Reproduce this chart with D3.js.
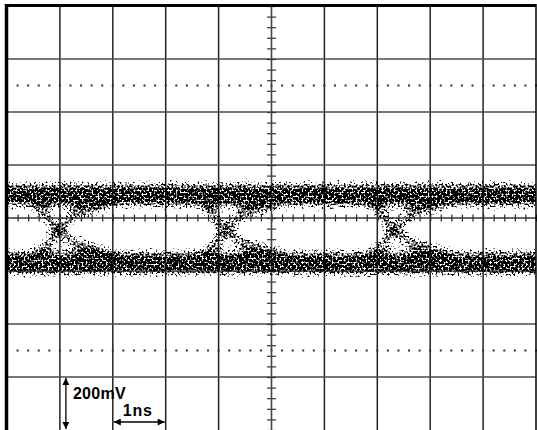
<!DOCTYPE html>
<html><head><meta charset="utf-8">
<script src="https://cdn.jsdelivr.net/npm/d3@7"></script>
<style>html,body{margin:0;padding:0;background:#fff;}svg{display:block;}</style>
</head><body>
<script>
// ---- data (time in ns, amplitude in mV; screen centre = 0,0) ----
const timeDomain = [-5, 5];          // 10 divisions x 1 ns
const voltDomain = [-800, 800];      // 8 divisions x 200 mV
const gridTimes = [-4, -3, -2, -1, 1, 2, 3, 4];
const gridVolts = [-600, -400, -200, 200, 400, 600];
const dottedVolts = [500, -500];
const highLevel = 87;                // upper eye rail
const lowLevel = -170;               // lower eye rail
const crossingTimes = [-4.04, -0.88, 2.30];
const riseOffsets = [-0.78, -0.47, -0.23, 0, 0.23, 0.57, 1.04, 1.6];
const riseValues  = [-170, -140, -102, -49, -4, 26, 55, 87];
const fallOffsets = [-0.78, -0.47, -0.23, 0, 0.28, 0.76, 1.23, 1.8];
const fallValues  = [87, 57, 11, -49, -83, -117, -145, -170];
const voltLabel = "200mV";
const timeLabel = "1ns";

const W = 537, H = 430;
const x = d3.scaleLinear().domain(timeDomain).range([7, 536]);
const y = d3.scaleLinear().domain(voltDomain).range([430, 6]);

const svg = d3.select("body").append("svg").attr("width", W).attr("height", H);
const defs = svg.append("defs");

// speckle filter: blurred trace density minus turbulence noise, thresholded
const f = defs.append("filter").attr("id", "speckle")
  .attr("filterUnits", "userSpaceOnUse").attr("x", 0).attr("y", 0)
  .attr("width", W).attr("height", H)
  .attr("color-interpolation-filters", "sRGB");
f.append("feGaussianBlur").attr("in", "SourceAlpha").attr("stdDeviation", 4.5).attr("result", "d");
f.append("feTurbulence").attr("type", "fractalNoise").attr("baseFrequency", 0.5)
  .attr("numOctaves", 1).attr("seed", 7).attr("result", "t");
f.append("feColorMatrix").attr("in", "t").attr("type", "matrix")
  .attr("values", "0 0 0 0 0  0 0 0 0 0  0 0 0 0 0  1 0 0 0 0").attr("result", "n");
f.append("feComposite").attr("in", "d").attr("in2", "n").attr("operator", "arithmetic")
  .attr("k1", 0).attr("k2", 1.8).attr("k3", -3).attr("k4", 0.55).attr("result", "c");
const ct = f.append("feComponentTransfer").attr("in", "c").attr("result", "th");
ct.append("feFuncA").attr("type", "discrete").attr("tableValues", "0 0 0.5 1");
f.append("feColorMatrix").attr("in", "th").attr("type", "matrix")
  .attr("values", "0 0 0 0 0  0 0 0 0 0  0 0 0 0 0  0 0 0 1 0");

defs.append("clipPath").attr("id", "screen").append("rect")
  .attr("x", x(-5)).attr("y", y(800)).attr("width", x(5) - x(-5)).attr("height", y(-800) - y(800));

// arrow markers
defs.append("marker").attr("id", "ah").attr("viewBox", "0 0 10 10")
  .attr("refX", 10).attr("refY", 5).attr("markerWidth", 8).attr("markerHeight", 7)
  .attr("markerUnits", "userSpaceOnUse").attr("orient", "auto-start-reverse")
  .append("path").attr("d", "M0,0 L10,5 L0,10 Z").attr("fill", "#000");

// grid
const grid = svg.append("g");
grid.selectAll("line.v").data(gridTimes).join("line")
  .attr("x1", d => x(d)).attr("x2", d => x(d)).attr("y1", y(800)).attr("y2", y(-800))
  .attr("stroke", "#222").attr("stroke-width", 1.5);
grid.selectAll("line.h").data(gridVolts).join("line")
  .attr("x1", x(-5)).attr("x2", x(5)).attr("y1", d => y(d)).attr("y2", d => y(d))
  .attr("stroke", "#4a4a4a").attr("stroke-width", 1.6);

// dotted lines
const dotTimes = d3.range(-50, 51, 2).map(d => d / 10);
dottedVolts.forEach(v => {
  svg.append("g").selectAll("rect").data(dotTimes).join("rect")
    .attr("x", d => x(d) - 1).attr("y", y(v) - 1).attr("width", 2).attr("height", 2)
    .attr("fill", "#333");
});

// centre axes with minor ticks
const minorT = d3.range(-25, 26).map(d => d / 5);
const minorV = d3.range(-20, 21).map(d => d * 40);
const ax = svg.append("g").attr("transform", `translate(0,${y(0)})`)
  .call(d3.axisBottom(x).tickValues(minorT).tickSize(3.5).tickFormat(""));
ax.select(".domain").remove();
ax.selectAll(".tick line").attr("y1", -3.5).attr("stroke", "#222").attr("stroke-width", 1.2);
svg.append("line").attr("x1", x(-5)).attr("x2", x(5)).attr("y1", y(0)).attr("y2", y(0))
  .attr("stroke", "#333").attr("stroke-width", 1.6);
const ay = svg.append("g").attr("transform", `translate(${x(0)},0)`)
  .call(d3.axisRight(y).tickValues(minorV).tickSize(4.5).tickFormat(""));
ay.select(".domain").remove();
ay.selectAll(".tick line").attr("x1", -4.5).attr("stroke", "#333").attr("stroke-width", 1.2);
svg.append("line").attr("x1", x(0)).attr("x2", x(0)).attr("y1", y(800)).attr("y2", y(-800))
  .attr("stroke", "#444").attr("stroke-width", 1.6);

// eye diagram
const line = d3.line().x(d => x(d[0])).y(d => y(d[1])).curve(d3.curveMonotoneX);
const eye = svg.append("g").attr("clip-path", "url(#screen)")
  .append("g").attr("filter", "url(#speckle)");
[highLevel, lowLevel].forEach(v => {
  eye.append("path").attr("d", line([[timeDomain[0] - 0.5, v], [timeDomain[1] + 0.5, v]]))
    .attr("fill", "none").attr("stroke", "#000").attr("stroke-width", 28);
});
crossingTimes.forEach(tc => {
  eye.append("path").attr("d", line(riseOffsets.map((o, i) => [tc + o, riseValues[i]])))
    .attr("fill", "none").attr("stroke", "#000").attr("stroke-width", 13).attr("stroke-opacity", 0.93);
  eye.append("path").attr("d", line(fallOffsets.map((o, i) => [tc + o, fallValues[i]])))
    .attr("fill", "none").attr("stroke", "#000").attr("stroke-width", 13).attr("stroke-opacity", 0.93);
});

// frame
svg.append("line").attr("x1", x(-5) - 0.5).attr("x2", x(5)).attr("y1", y(800) - 0.5).attr("y2", y(800) - 0.5)
  .attr("stroke", "#000").attr("stroke-width", 3);
svg.append("line").attr("x1", x(-5) - 0.5).attr("x2", x(-5) - 0.5).attr("y1", y(800) - 2).attr("y2", H)
  .attr("stroke", "#000").attr("stroke-width", 3.5);
svg.append("line").attr("x1", x(5)).attr("x2", x(5)).attr("y1", y(800) - 2).attr("y2", H)
  .attr("stroke", "#000").attr("stroke-width", 1.5);

// scale annotations
const ann = svg.append("g");
ann.append("line").attr("x1", x(-4) + 6).attr("x2", x(-4) + 6)
  .attr("y1", y(-600) + 1).attr("y2", y(-800) - 1)
  .attr("stroke", "#000").attr("stroke-width", 1.3)
  .attr("marker-start", "url(#ah)").attr("marker-end", "url(#ah)");
ann.append("text").attr("x", x(-4) + 13).attr("y", y(-600) + 22).text(voltLabel)
  .attr("font-family", "Liberation Sans, Arial, sans-serif").attr("font-weight", "bold")
  .attr("font-size", 16).attr("letter-spacing", 0.3).attr("fill", "#000");
ann.append("line").attr("x1", x(-3) + 1).attr("x2", x(-2) - 1)
  .attr("y1", y(-800) - 8).attr("y2", y(-800) - 8)
  .attr("stroke", "#000").attr("stroke-width", 1.3)
  .attr("marker-start", "url(#ah)").attr("marker-end", "url(#ah)");
ann.append("text").attr("x", x(-3) + 10).attr("y", y(-800) - 14).text(timeLabel)
  .attr("font-family", "Liberation Sans, Arial, sans-serif").attr("font-weight", "bold")
  .attr("font-size", 16).attr("letter-spacing", 0.8).attr("fill", "#000");
</script>
</body></html>
